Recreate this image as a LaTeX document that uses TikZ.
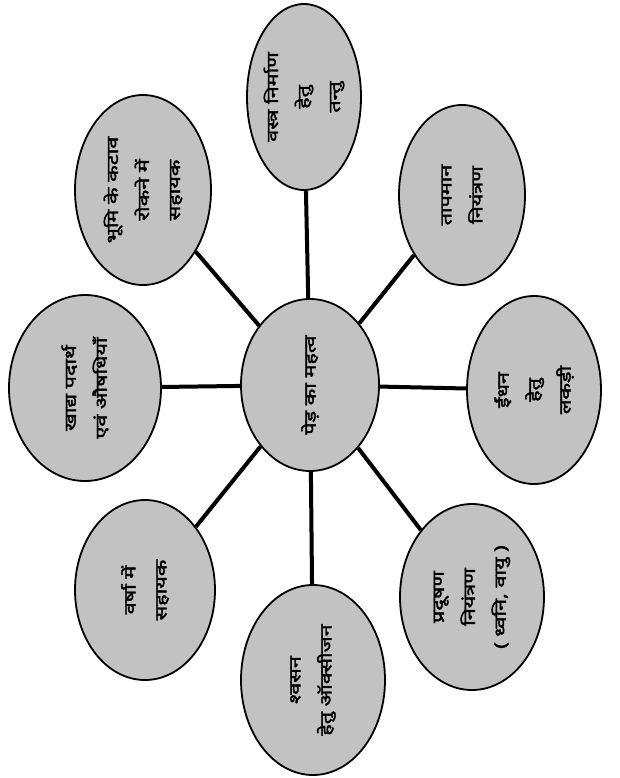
\documentclass[tikz,border=0pt]{standalone}
\usepackage{fontspec}
\newfontfamily\dev[Script=Devanagari,FakeBold=2.5,FakeStretch=1.35]{Noto Sans}
\usetikzlibrary{shapes.geometric}
\begin{document}
\begin{tikzpicture}[x=1pt,y=-1pt,
  bub/.style={ellipse, draw=black, line width=1.8pt, fill=black!24, rotate=90, inner sep=0pt,
    align=center, font=\dev\fontsize{16}{31}\selectfont},
  conn/.style={line width=4pt, draw=black}]
\useasboundingbox (0,0) rectangle (619,778);
\node[bub, minimum width=172, minimum height=138] (c) at (310,385) {पेड़ का महत्व};
\node[bub, minimum width=186, minimum height=108] (t) at (304,97) {वस्त्र निर्माण\\हेतु\\तन्तु};
\node[bub, minimum width=180, minimum height=126] (tr) at (462,195) {तापमान\\नियंत्रण};
\node[bub, minimum width=188, minimum height=134] (r) at (534,390) {ईंधन\\हेतु\\लकड़ी};
\node[bub, minimum width=186, minimum height=144] (br) at (472,597) {प्रदूषण\\नियंत्रण\\( ध्वनि, वायु )};
\node[bub, minimum width=190, minimum height=144] (b) at (313,680) {श्वसन\\हेतु ऑक्सीजन};
\node[bub, minimum width=180, minimum height=140] (bl) at (145,590) {वर्षा में\\सहायक};
\node[bub, minimum width=186, minimum height=152] (l) at (85,388) {खाद्य पदार्थ\\एवं औषधियाँ};
\node[bub, minimum width=190, minimum height=136] (tl) at (143,190) {भूमि के कटाव\\रोकने में\\सहायक};
\foreach \n in {t,tr,r,br,b,bl,l,tl} \draw[conn] (c) -- (\n);
\end{tikzpicture}
\end{document}
